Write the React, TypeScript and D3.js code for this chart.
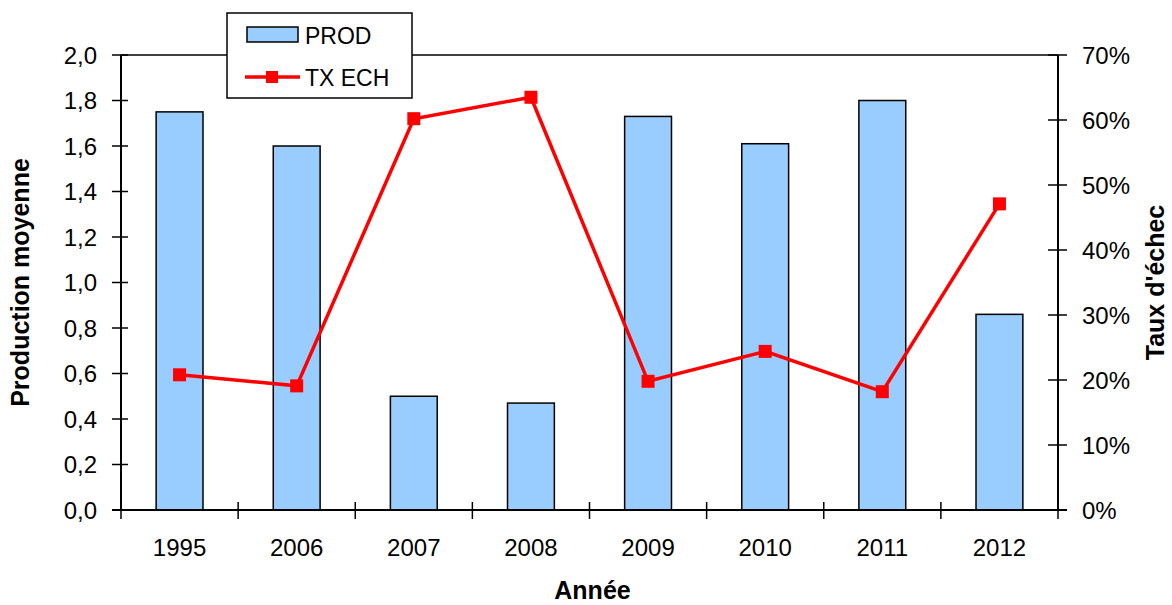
import { useRef, useEffect } from 'react';
import * as d3 from 'd3';

// Values
const YEARS = ['1995', '2006', '2007', '2008', '2009', '2010', '2011', '2012'];
const PROD = [1.75, 1.6, 0.5, 0.47, 1.73, 1.61, 1.8, 0.86];
const TX_ECH = [0.208, 0.191, 0.602, 0.635, 0.198, 0.244, 0.182, 0.471];
const LEFT_TICKS = [0, 0.2, 0.4, 0.6, 0.8, 1.0, 1.2, 1.4, 1.6, 1.8, 2.0];
const RIGHT_TICKS = [0, 0.1, 0.2, 0.3, 0.4, 0.5, 0.6, 0.7];

export default function App() {
  const ref = useRef<SVGSVGElement>(null);

  useEffect(() => {
    const svg = ref.current;
    if (!svg) return;
    const W = 1172, H = 605;
    const x0 = 121, x1 = 1058, yTop = 55, yBot = 510;
    const font = '"Liberation Sans", Arial, sans-serif';

    d3.select(svg).selectAll('*').remove();
    const g = d3.select(svg).append('g').attr('font-family', font);

    const x = d3.scaleBand().domain(YEARS).range([x0, x1]).paddingInner(0.6).paddingOuter(0.3);
    const yL = d3.scaleLinear().domain([0, 2]).range([yBot, yTop]);
    const yR = d3.scaleLinear().domain([0, 0.7]).range([yBot, yTop]);
    const step = (x1 - x0) / YEARS.length;

    // Bars
    g.selectAll('rect.bar')
      .data(PROD)
      .enter()
      .append('rect')
      .attr('x', (_, i) => x(YEARS[i])!)
      .attr('y', (d) => yL(d))
      .attr('width', x.bandwidth())
      .attr('height', (d) => yBot - yL(d))
      .attr('fill', '#99ccff')
      .attr('stroke', '#000')
      .attr('stroke-width', 1.5);

    // Frame: top and axes
    g.append('line').attr('x1', x0).attr('y1', yTop).attr('x2', x1).attr('y2', yTop).attr('stroke', '#000').attr('stroke-width', 1.5);
    g.append('line').attr('x1', x0).attr('y1', yTop).attr('x2', x0).attr('y2', yBot).attr('stroke', '#000').attr('stroke-width', 2);
    g.append('line').attr('x1', x1).attr('y1', yTop).attr('x2', x1).attr('y2', yBot).attr('stroke', '#000').attr('stroke-width', 2);
    g.append('line').attr('x1', x0 - 9).attr('y1', yBot).attr('x2', x1 + 9).attr('y2', yBot).attr('stroke', '#000').attr('stroke-width', 2);

    // Left ticks
    LEFT_TICKS.forEach((v) => {
      g.append('line').attr('x1', x0 - 9).attr('y1', yL(v)).attr('x2', x0 + 7).attr('y2', yL(v)).attr('stroke', '#000').attr('stroke-width', 1.5);
      g.append('text').attr('x', 97).attr('y', yL(v) + 8.5).attr('text-anchor', 'end').attr('font-size', 24).attr('fill', '#000')
        .text(v.toFixed(1).replace('.', ','));
    });
    // Right ticks
    RIGHT_TICKS.forEach((v) => {
      g.append('line').attr('x1', x1 - 10).attr('y1', yR(v)).attr('x2', x1 + 9).attr('y2', yR(v)).attr('stroke', '#000').attr('stroke-width', 1.5);
      g.append('text').attr('x', 1082).attr('y', yR(v) + 8.5).attr('text-anchor', 'start').attr('font-size', 24).attr('fill', '#000')
        .text(Math.round(v * 100) + '%');
    });
    // X ticks at category boundaries
    d3.range(YEARS.length + 1).forEach((i) => {
      const xx = x0 + i * step;
      g.append('line').attr('x1', xx).attr('y1', yBot - 8).attr('x2', xx).attr('y2', yBot + 9).attr('stroke', '#000').attr('stroke-width', 1.5);
    });
    YEARS.forEach((yr) => {
      g.append('text').attr('x', x(yr)! + x.bandwidth() / 2).attr('y', 556).attr('text-anchor', 'middle').attr('font-size', 24).attr('fill', '#000').text(yr);
    });

    // Line series
    const pts = TX_ECH.map((v, i) => [x(YEARS[i])! + x.bandwidth() / 2, yR(v)] as [number, number]);
    g.append('path').datum(pts).attr('d', d3.line()).attr('fill', 'none').attr('stroke', '#ff0000').attr('stroke-width', 3.5);
    g.selectAll('rect.mk').data(pts).enter().append('rect')
      .attr('x', (d) => d[0] - 6.5).attr('y', (d) => d[1] - 6.5).attr('width', 13).attr('height', 13).attr('fill', '#ff0000');

    // Axis titles
    g.append('text').attr('transform', `translate(29,${(yTop + yBot) / 2}) rotate(-90)`).attr('text-anchor', 'middle')
      .attr('font-size', 25).attr('font-weight', 'bold').attr('fill', '#000').text('Production moyenne');
    g.append('text').attr('transform', `translate(1164,${(yTop + yBot) / 2}) rotate(-90)`).attr('text-anchor', 'middle')
      .attr('font-size', 25).attr('font-weight', 'bold').attr('fill', '#000').text("Taux d'échec");
    g.append('text').attr('x', (x0 + x1) / 2 + 3).attr('y', 599).attr('text-anchor', 'middle')
      .attr('font-size', 25).attr('font-weight', 'bold').attr('fill', '#000').text('Année');

    // Legend
    const lg = g.append('g');
    lg.append('rect').attr('x', 227).attr('y', 13).attr('width', 185).attr('height', 85).attr('fill', '#fff').attr('stroke', '#000').attr('stroke-width', 1.5);
    lg.append('rect').attr('x', 247).attr('y', 27).attr('width', 51).attr('height', 15).attr('fill', '#99ccff').attr('stroke', '#000').attr('stroke-width', 1.5);
    lg.append('text').attr('x', 305).attr('y', 44).attr('font-size', 23).attr('fill', '#000').text('PROD');
    lg.append('line').attr('x1', 245).attr('y1', 77).attr('x2', 300).attr('y2', 77).attr('stroke', '#ff0000').attr('stroke-width', 3.5);
    lg.append('rect').attr('x', 266).attr('y', 71).attr('width', 12).attr('height', 12).attr('fill', '#ff0000');
    lg.append('text').attr('x', 305).attr('y', 86).attr('font-size', 23).attr('fill', '#000').text('TX ECH');

    d3.select(svg).attr('width', W).attr('height', H);
  }, []);

  return (
    <svg ref={ref} width={1172} height={605} style={{ position: 'absolute', left: 0, top: 0, background: '#fff' }} />
  );
}
